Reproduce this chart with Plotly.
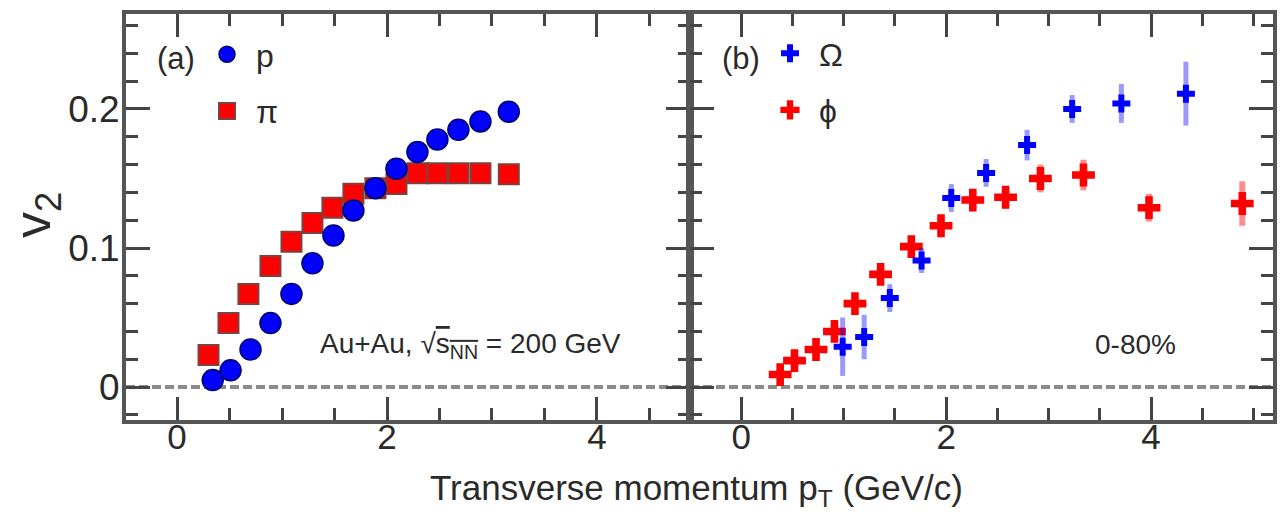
import plotly.graph_objects as go

# ---- data ----
p_pt = [0.34, 0.51, 0.70, 0.89, 1.09, 1.29, 1.49, 1.68, 1.89, 2.09, 2.29, 2.48, 2.68, 2.89, 3.16]
p_v2 = [0.005, 0.012, 0.027, 0.046, 0.067, 0.089, 0.109, 0.127, 0.143, 0.157, 0.169, 0.178, 0.185, 0.191, 0.198]

pi_pt = [0.30, 0.49, 0.68, 0.89, 1.09, 1.29, 1.48, 1.68, 1.89, 2.09, 2.29, 2.48, 2.68, 2.89, 3.16]
pi_v2 = [0.023, 0.046, 0.067, 0.087, 0.1045, 0.118, 0.129, 0.139, 0.143, 0.146, 0.1537, 0.1537, 0.1537, 0.1537, 0.153]

om_pt = [0.99, 1.20, 1.45, 1.76, 2.05, 2.39, 2.79, 3.23, 3.71, 4.34]
om_v2 = [0.029, 0.036, 0.064, 0.091, 0.136, 0.154, 0.174, 0.200, 0.204, 0.211]
om_err = [0.021, 0.016, 0.010, 0.009, 0.010, 0.010, 0.011, 0.010, 0.014, 0.023]

phi_pt = [0.38, 0.52, 0.73, 0.91, 1.11, 1.36, 1.66, 1.95, 2.26, 2.58, 2.92, 3.34, 3.98, 4.89]
phi_v2 = [0.009, 0.019, 0.027, 0.040, 0.060, 0.081, 0.101, 0.116, 0.1345, 0.1365, 0.150, 0.1525, 0.129, 0.132]
phi_err = [0.005, 0.005, 0.005, 0.006, 0.006, 0.006, 0.007, 0.007, 0.008, 0.008, 0.010, 0.011, 0.010, 0.016]

x_ticks = [0, 2, 4]
y_ticks = [0, 0.1, 0.2]
y_ticktext = ["0", "0.1", "0.2"]

FONT = "Liberation Sans, Arial, sans-serif"
TXT = "#2a2a2a"
W, H = 1283, 516

fig = go.Figure()

fig.add_trace(go.Scatter(
    x=pi_pt, y=pi_v2, mode="markers", name="π", legend="legend", legendgroup="pi",
    marker=dict(symbol="square", size=20, color="#ff0000", line=dict(color="#7f4040", width=2)),
    xaxis="x", yaxis="y", legendrank=2))
fig.add_trace(go.Scatter(
    x=p_pt, y=p_v2, mode="markers", name="p", legend="legend", legendgroup="p",
    marker=dict(symbol="circle", size=21, color="#0000ff", line=dict(color="#00006a", width=1.5)),
    xaxis="x", yaxis="y", legendrank=1))

fig.add_trace(go.Scatter(
    x=phi_pt, y=phi_v2, mode="markers", name="ϕ", legend="legend2", legendgroup="phi",
    error_y=dict(type="data", array=phi_err, color="rgba(255,0,0,0.45)", thickness=6, width=0),
    marker=dict(symbol="cross", size=19, color="#ff0000", line=dict(width=0)),
    xaxis="x2", yaxis="y2", legendrank=2))
fig.add_trace(go.Scatter(
    x=om_pt, y=om_v2, mode="markers", name="Ω", legend="legend2", legendgroup="om",
    error_y=dict(type="data", array=om_err, color="rgba(0,0,255,0.4)", thickness=5, width=0),
    marker=dict(symbol="cross", size=15, color="#0000ff", line=dict(width=0)),
    xaxis="x2", yaxis="y2", legendrank=1))

dom1 = [126 / W, 690 / W]
dom2 = [690 / W, 1273 / W]
ydom = [1 - 420 / H, 1 - 14 / H]

def xax(domain, rng, anchor):
    return dict(
        domain=domain, range=rng, anchor=anchor,
        tickmode="array", tickvals=x_ticks, ticktext=[str(v) for v in x_ticks],
        ticks="inside", ticklen=23, tickwidth=3, tickcolor="#444",
        minor=dict(dtick=0.5, tick0=0, ticks="inside", ticklen=12, tickwidth=3, tickcolor="#444"),
        showline=True, linewidth=4, linecolor="#555", mirror="allticks",
        showgrid=False, zeroline=False, ticklabelstandoff=-17,
        tickfont=dict(family=FONT, size=35, color=TXT),
    )

def yax(anchor, labels):
    return dict(
        domain=ydom, range=[-0.0237, 0.2683], anchor=anchor,
        tickmode="array", tickvals=y_ticks, ticktext=y_ticktext, showticklabels=labels,
        ticks="inside", ticklen=24, tickwidth=3, tickcolor="#444",
        minor=dict(dtick=0.02, tick0=0, ticks="inside", ticklen=12, tickwidth=3, tickcolor="#444"),
        showline=True, linewidth=4, linecolor="#555", mirror="allticks",
        showgrid=False, zeroline=False, ticklabelstandoff=-5,
        tickfont=dict(family=FONT, size=37, color=TXT),
    )

leg_common = dict(
    font=dict(family=FONT, size=32, color=TXT), bgcolor="rgba(0,0,0,0)",
    borderwidth=0, tracegroupgap=12, xanchor="left", yanchor="top",
    itemsizing="trace", itemwidth=48,
)

fig.update_layout(
    width=W, height=H, autosize=False,
    margin=dict(l=0, r=0, t=0, b=0),
    paper_bgcolor="white", plot_bgcolor="white",
    font=dict(family=FONT, color=TXT),
    xaxis=xax(dom1, [-0.486, 4.886], "y"),
    yaxis=yax("x", True),
    xaxis2=xax(dom2, [-0.50, 5.19], "y2"),
    yaxis2=yax("x2", False),
    legend=dict(x=198 / W, y=1 - 27 / H, **leg_common),
    legend2=dict(x=761 / W, y=1 - 26 / H, **leg_common),
    showlegend=True,
)

# dashed zero reference line in each panel
for xr, yr in (("x domain", "y"), ("x2 domain", "y2")):
    fig.add_shape(type="line", xref=xr, yref=yr, x0=0, x1=1, y0=0, y1=0,
                  line=dict(color="#8a8a8a", width=4, dash="9px,4px"), layer="below")

ann = [
    dict(text="(a)", x=155 / W, y=1 - 59 / H, xanchor="left", yanchor="middle", size=31),
    dict(text="(b)", x=720 / W, y=1 - 59 / H, xanchor="left", yanchor="middle", size=31),
    dict(text='Au+Au, √<span style="text-decoration:overline">s<sub>NN</sub></span> = 200 GeV',
         x=318 / W, y=1 - 345 / H, xanchor="left", yanchor="middle", size=28),
    dict(text="0-80%", x=1093 / W, y=1 - 344 / H, xanchor="left", yanchor="middle", size=28),
    dict(text="Transverse momentum p<sub>T</sub> (GeV/c)", x=696 / W, y=1 - 490 / H,
         xanchor="center", yanchor="middle", size=35),
]
for a in ann:
    fig.add_annotation(text=a["text"], xref="paper", yref="paper", x=a["x"], y=a["y"],
                       xanchor=a["xanchor"], yanchor=a["yanchor"], showarrow=False,
                       font=dict(family=FONT, size=a["size"], color=TXT))

fig.add_annotation(text="v<sub>2</sub>", xref="paper", yref="paper", x=36 / W, y=1 - 215 / H,
                   xanchor="center", yanchor="middle", textangle=-90, showarrow=False,
                   font=dict(family=FONT, size=52, color=TXT))

fig.write_html("out.html")
